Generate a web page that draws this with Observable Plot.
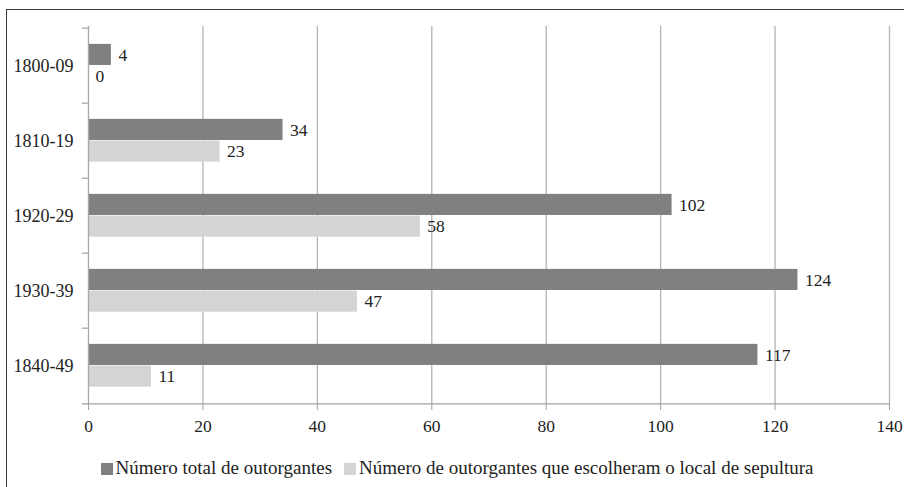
<!DOCTYPE html>
<html><head><meta charset="utf-8">
<script src="https://cdn.jsdelivr.net/npm/d3@7"></script>
<script src="https://cdn.jsdelivr.net/npm/@observablehq/plot@0.6"></script>
<style>
html,body{margin:0;padding:0;background:#fff;overflow:hidden;}
body{width:904px;height:487px;position:relative;font-family:"Liberation Serif","Times New Roman","DejaVu Serif",serif;color:#222;}
#frame{position:absolute;left:6px;top:9px;width:1000px;height:1000px;border-left:1.6px solid #3a3a3a;border-top:1.6px solid #3a3a3a;}
#chart{position:absolute;left:0;top:0;}
#legend{position:absolute;left:0;top:457px;width:914px;text-align:center;font-size:19px;line-height:22px;white-space:nowrap;}
#legend span.item{display:inline-block;margin:0 6px;}
#legend span.sw{display:inline-block;width:12px;height:12px;margin-right:3px;vertical-align:-1px;}
#chart svg text{font-family:"Liberation Serif","Times New Roman","DejaVu Serif",serif;}
</style>
</head><body>
<div id="frame"></div>
<div id="chart"></div>
<div id="legend"></div>
<script>
const periods = ["1800-09", "1810-19", "1920-29", "1930-39", "1840-49"];
const totalValues = [4, 34, 102, 124, 117];
const chosenValues = [0, 23, 58, 47, 11];
const seriesNames = ["Número total de outorgantes", "Número de outorgantes que escolheram o local de sepultura"];
const seriesColors = ["#808083", "#d4d4d6"];
const xTicks = [0, 20, 40, 60, 80, 100, 120, 140];

const width = 904, height = 440;
const mt = 26, mb = 36, ml = 88, mr = 15;
const band = (height - mt - mb) / periods.length;
const offTop = 0.21 * band, bh = 0.287 * band;
const pxToX = 140 / (width - ml - mr);
const fontStack = '"Liberation Serif", "Times New Roman", "DejaVu Serif", serif';

const totalData = periods.map((p, i) => ({period: p, value: totalValues[i], series: seriesNames[0]}));
const chosenData = periods.map((p, i) => ({period: p, value: chosenValues[i], series: seriesNames[1]}));

const darkCenter = offTop + bh / 2 - band / 2;
const lightCenter = offTop + bh + bh / 2 - band / 2;

const plot = Plot.plot({
  width, height,
  marginTop: mt, marginBottom: mb, marginLeft: ml, marginRight: mr,
  style: {fontFamily: fontStack, fontSize: "17px", color: "#222", background: "transparent"},
  x: {domain: [0, 140]},
  y: {domain: periods, padding: 0},
  color: {domain: seriesNames, range: seriesColors},
  marks: [
    Plot.gridX(xTicks.filter(d => d > 0), {stroke: "#b4b4b4", strokeOpacity: 1, strokeWidth: 1.3}),
    Plot.barX(totalData, {x: "value", y: "period", fill: "series", insetTop: offTop, insetBottom: band - offTop - bh}),
    Plot.barX(chosenData, {x: "value", y: "period", fill: "series", insetTop: offTop + bh, insetBottom: band - offTop - 2 * bh}),
    Plot.ruleX([0], {stroke: "#a8a8a8", strokeWidth: 1.3}),
    Plot.ruleY(periods, {y: d => d, x1: -6 * pxToX, x2: 0, dy: -band / 2, stroke: "#a8a8a8", strokeWidth: 1.3}),
    Plot.ruleY([periods[periods.length - 1]], {y: d => d, x1: -6 * pxToX, x2: 140, dy: band / 2, stroke: "#a0a0a0", strokeWidth: 1.3}),
    Plot.text(totalData, {x: "value", y: "period", text: d => String(d.value), dy: darkCenter, dx: 7, textAnchor: "start", fill: "#222", fontSize: 17.5}),
    Plot.text(chosenData, {x: "value", y: "period", text: d => String(d.value), dy: lightCenter, dx: 7, textAnchor: "start", fill: "#222", fontSize: 17.5}),
    Plot.axisX({ticks: xTicks, tickSize: 6, tickPadding: 9, stroke: "#a0a0a0", fill: "#222", label: null, fontSize: 17.5}),
    Plot.axisY({tickSize: 0, tickPadding: 15, fill: "#222", label: null, fontSize: 18})
  ]
});
document.getElementById("chart").appendChild(plot);

const legend = document.getElementById("legend");
seriesNames.forEach((name, i) => {
  const item = document.createElement("span");
  item.className = "item";
  const sw = document.createElement("span");
  sw.className = "sw";
  sw.style.background = seriesColors[i];
  item.appendChild(sw);
  item.appendChild(document.createTextNode(name));
  legend.appendChild(item);
});
</script>
</body></html>
